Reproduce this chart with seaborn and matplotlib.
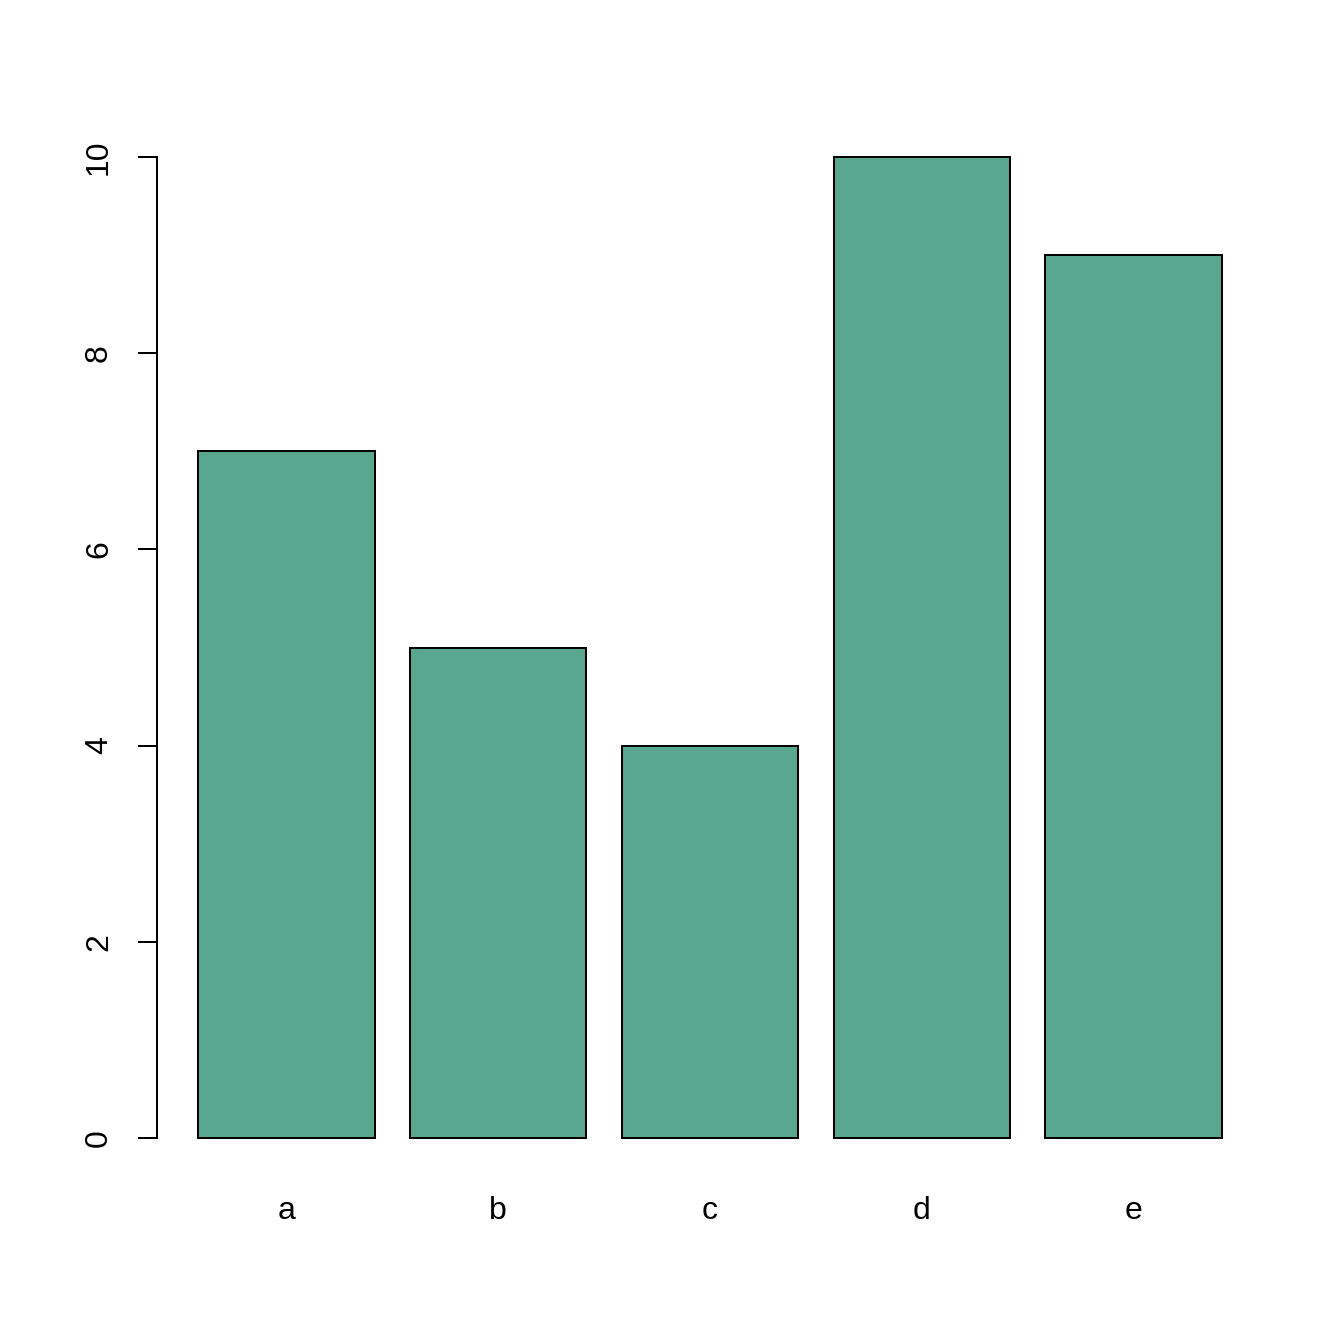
import matplotlib
matplotlib.use("Agg")
import matplotlib.pyplot as plt
import seaborn as sns
import pandas as pd

categories = ["a", "b", "c", "d", "e"]
values = [7, 5, 4, 10, 9]
yticks = [0, 2, 4, 6, 8, 10]

sns.set_style("white")
plt.rcParams["font.family"] = ["Liberation Sans", "DejaVu Sans"]
plt.rcParams["text.color"] = "black"
plt.rcParams["xtick.color"] = "black"
plt.rcParams["ytick.color"] = "black"

df = pd.DataFrame({"cat": categories, "val": values})

fig = plt.figure(figsize=(7, 7), dpi=192)
ax = fig.add_axes([157/1344, 1 - 1177/1344, (1263-157)/1344, (1177-118)/1344])
sns.barplot(data=df, x="cat", y="val", ax=ax, color="#5AA790", saturation=1,
            width=1/1.2, edgecolor="black", linewidth=0.75)
ax.set_xlim(-0.41667 - 0.19333, 4.41667 + 0.19333)
ax.set_ylim(-0.4, 10.4)
ax.set_xlabel("")
ax.set_ylabel("")
for s in ["top", "right", "bottom"]:
    ax.spines[s].set_visible(False)
ax.spines["left"].set_bounds(0, 10)
ax.spines["left"].set_linewidth(0.75)
ax.spines["left"].set_color("black")
ax.set_yticks(yticks)
ax.set_yticklabels([str(t) for t in yticks], rotation=90, va="center", fontsize=12, color="black")
ax.tick_params(axis="y", length=7.1, width=0.75, pad=9, color="black", labelcolor="black", left=True)
ax.tick_params(axis="x", length=0, pad=7, labelsize=12, labelcolor="black")
fig.savefig("out.png", dpi=192, facecolor="white")
